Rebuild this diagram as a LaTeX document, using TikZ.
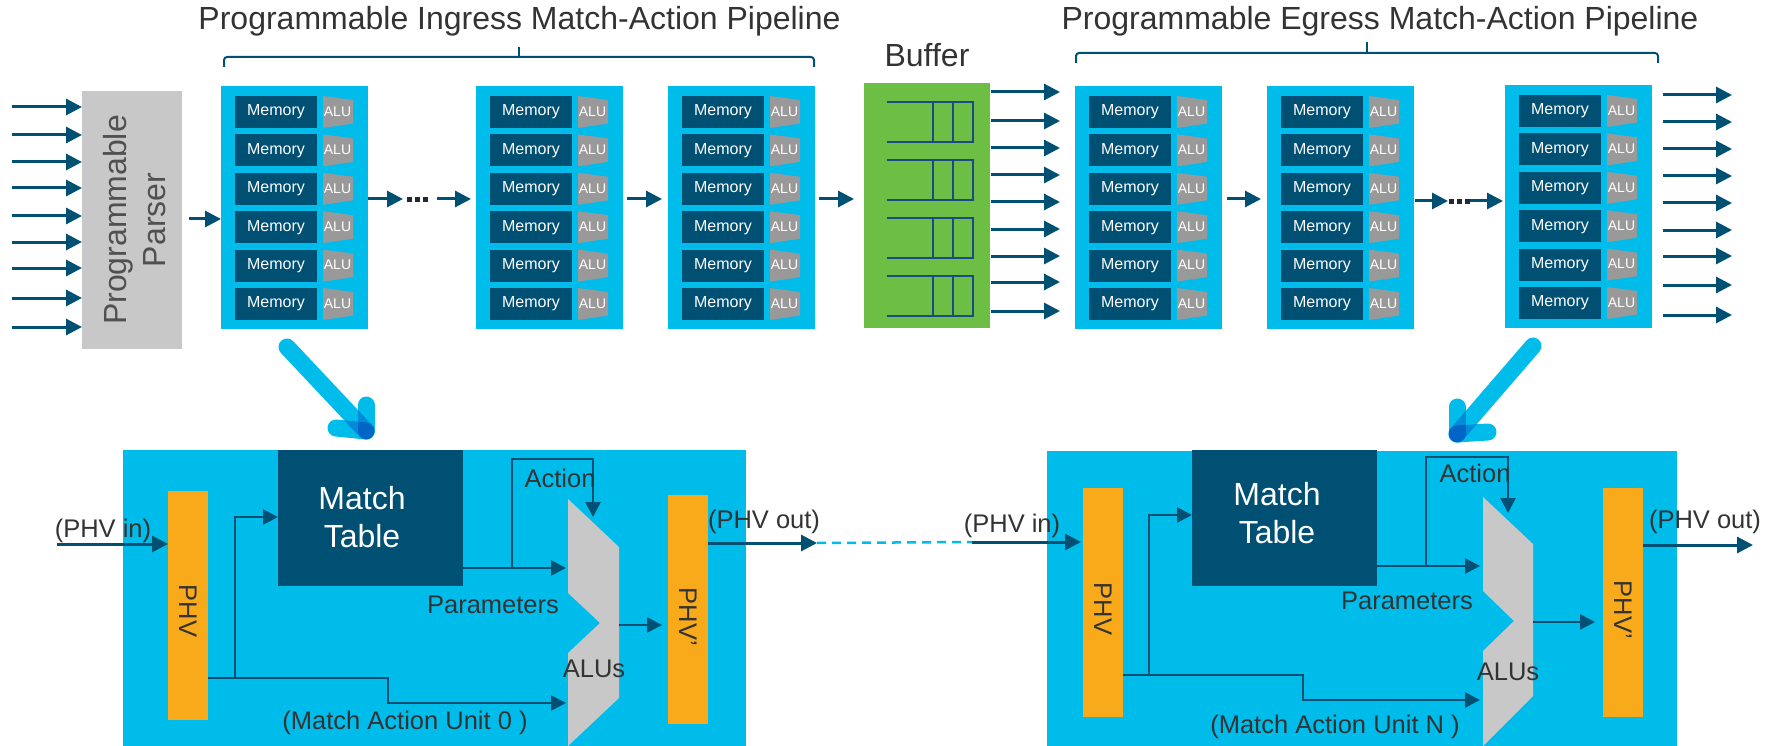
\documentclass[tikz,border=0pt]{standalone}
\usepackage{fontspec}
\setmainfont{Liberation Sans}
\usetikzlibrary{arrows.meta}

\definecolor{cyanbox}{HTML}{00BCEB}
\definecolor{deep}{HTML}{005073}
\definecolor{alugray}{HTML}{999999}
\definecolor{parsergray}{HTML}{C8C8C8}
\definecolor{muxgray}{HTML}{C8C8C8}
\definecolor{bufgreen}{HTML}{6CBE45}
\definecolor{phvorange}{HTML}{F9AA1B}
\definecolor{queueblue}{HTML}{1B4A86}
\definecolor{ink}{HTML}{333333}
\definecolor{parserink}{HTML}{505050}
\definecolor{dotink}{HTML}{1F2A36}

\newcommand\fsz[1]{\fontsize{#1pt}{#1pt}\selectfont}

\tikzset{
  nwbox/.style={anchor=north west, inner sep=0pt, outer sep=0pt},
  stagebox/.style={nwbox, fill=cyanbox, minimum width=147pt, minimum height=243pt},
  mem/.style={nwbox, fill=deep, text=white, minimum width=82pt, minimum height=32pt, font=\fsz{16}},
  alutext/.style={text=white, inner sep=0pt, font=\fsz{14}},
  arr/.style={draw=deep, line width=3pt, -{Triangle[length=16pt,width=16pt]}},
  wire/.style={draw=deep, line width=2.6pt},
  warr/.style={wire, -{Triangle[length=15pt,width=15pt]}},
  lbl/.style={text=ink, inner sep=0pt, anchor=base, font=\fsz{25.5}},
  ttl/.style={text=ink, inner sep=0pt, anchor=base, font=\fsz{32}},
  phvbar/.style={nwbox, fill=phvorange, minimum width=40pt, minimum height=229pt},
  bartext/.style={text=ink, rotate=-90, inner sep=0pt, font=\fsz{25.5}},
  mtable/.style={nwbox, fill=deep, minimum width=185pt, minimum height=136pt},
  tabletext/.style={text=white, align=center, inner sep=0pt, font=\fontsize{32pt}{38pt}\selectfont},
  maubox/.style={nwbox, fill=cyanbox},
  bracket/.style={draw=deep, line width=2pt, rounded corners=3pt},
  queue/.style={draw=queueblue, line width=2pt},
  bigarrow/.style={draw=cyanbox, line width=17pt, line cap=round},
  link/.style={draw=cyanbox, line width=2.5pt, dash pattern=on 9pt off 6pt},
  parsertext/.style={rotate=90, anchor=base, inner sep=0pt, text=parserink, font=\fsz{32}},
}

% one match-action stage: six Memory/ALU rows in a cyan box
\newcommand\mastage[3]{%
  \node[stagebox] (#1) at (#2,#3) {};
  \foreach \r in {0,...,5}{
    \pgfmathsetmacro\rowtop{#3+10+38.4*\r}
    \node[mem] (#1m\r) at (#2+14,\rowtop) {Memory};
    \fill[alugray] (#2+102,\rowtop) -- (#2+132,\rowtop+4) -- (#2+132,\rowtop+27.5) -- (#2+102,\rowtop+32) -- cycle;
    \node[alutext] (#1a\r) at (#2+116.5,\rowtop+15.5) {ALU};
  }
}

\begin{document}
\begin{tikzpicture}[x=1pt,y=-1pt]
\useasboundingbox (0,0) rectangle (1777,746);

% ---------- titles and brackets ----------
\node[ttl] (ingtitle) at (519.5,30) {Programmable Ingress Match-Action Pipeline};
\node[ttl] (egrtitle) at (1380,30) {Programmable Egress Match-Action Pipeline};
\node[ttl] (buftitle) at (927,67) {Buffer};

\draw[bracket] (224,67) -- (224,57) -- (814,57) -- (814,67);
\draw[bracket] (519,57) -- (519,47);
\draw[bracket] (1076,63) -- (1076,53) -- (1658,53) -- (1658,63);
\draw[bracket] (1367,53) -- (1367,42);

% ---------- parser ----------
\node[nwbox, fill=parsergray, minimum width=100pt, minimum height=258pt] (parser) at (82,91) {};
\node[parsertext] (parserl1) at (126,220) {Programmable};
\node[parsertext] (parserl2) at (165,220) {Parser};

\foreach \y [count=\i] in {107,135,162,188,216,242,268,298,327}{
  \coordinate (in\i) at (12,\y);
  \draw[arr] (in\i) -- (in\i -| parser.west);
}

% ---------- stages ----------
\mastage{ig1}{221}{86}
\mastage{ig2}{476}{86}
\mastage{ig3}{668}{86}
\mastage{eg1}{1075}{86}
\mastage{eg2}{1267}{86}
\mastage{eg3}{1505}{85}

% ---------- buffer ----------
\node[nwbox, fill=bufgreen, minimum width=126pt, minimum height=245pt] (buf) at (864,83) {};
\foreach \t in {102,160,218,276}{
  \draw[queue] (887,\t) -- (973,\t) -- (973,\t+40) -- (887,\t+40);
  \draw[queue] (933,\t) -- (933,\t+40);
  \draw[queue] (953,\t) -- (953,\t+40);
}

% ---------- pipeline arrows ----------
\draw[arr, shorten <=7pt] (parser.east |- 0,219) -- (ig1.west |- 0,219);

\coordinate (dotsA) at (403,199);
\coordinate (dotsAend) at (437,199);
\draw[arr] (ig1.east |- dotsA) -- (dotsA);
\foreach \d in {407,415,423}{ \fill[dotink] (\d,197) rectangle +(5,5); }
\draw[arr, shorten >=5pt] (dotsAend) -- (dotsAend -| ig2.west);

\draw[arr, shorten <=4pt, shorten >=6pt] (ig2.east |- 0,199) -- (ig3.west |- 0,199);
\draw[arr, shorten <=4pt, shorten >=10pt] (ig3.east |- 0,199) -- (buf.west |- 0,199);

\foreach \y [count=\i] in {92,121,148,175,202,229,256,282,311}{
  \coordinate (bo\i) at (1060,\y);
  \draw[arr, shorten <=1pt] (bo\i -| buf.east) -- (bo\i);
}

\draw[arr, shorten <=5pt, shorten >=6pt] (eg1.east |- 0,199) -- (eg2.west |- 0,199);

\coordinate (dotsB) at (1448,201);
\coordinate (dotsBend) at (1470,201);
\draw[arr, shorten <=1pt] (eg2.east |- dotsB) -- (dotsB);
\foreach \d in {1449,1457,1465}{ \fill[dotink] (\d,199) rectangle +(5,5); }
\draw[arr, shorten >=2pt] (dotsBend) -- (dotsBend -| eg3.west);

\foreach \y [count=\i] in {95,122,149,176,203,230,256,285,315}{
  \coordinate (eo\i) at (1732,\y);
  \draw[arr, shorten <=11pt] (eo\i -| eg3.east) -- (eo\i);
}

% ---------- zoom-in callout arrows ----------
\coordinate (zoomAstart) at (287,347);
\coordinate (zoomAtip) at (366,431);
\coordinate (zoomBstart) at (1533,346);
\coordinate (zoomBtip) at (1457,434);
\begin{scope}[blend mode=multiply]
  \draw[bigarrow] (zoomAstart) -- (zoomAtip);
  \draw[bigarrow] (366,405) -- (zoomAtip);
  \draw[bigarrow] (336,428) -- (zoomAtip);
  \draw[bigarrow] (zoomBstart) -- (zoomBtip);
  \draw[bigarrow] (1457,407) -- (zoomBtip);
  \draw[bigarrow] (1488,432) -- (zoomBtip);
\end{scope}

% ---------- match action unit 0 ----------
\node[maubox, minimum width=623pt, minimum height=296pt] (mau0) at (123,450) {};
\node[phvbar] (phv0) at (168,491) {};
\node[bartext] (phv0t) at (188,611) {PHV};
\node[mtable] (mt0) at (278,450) {};
\node[tabletext] (mt0t) at (362,517) {Match\\Table};
\fill[muxgray] (568,499) -- (619,547) -- (619,698) -- (568,746) -- (568,653) -- (600,623) -- (568,593) -- cycle;
\coordinate (mux0in) at (566,623);
\coordinate (mux0out) at (619,625);
\node[phvbar] (phvp0) at (668,495) {};
\node[bartext] (phvp0t) at (688,617) {PHV’};

\coordinate (pin0) at (57,544);
\draw[arr] (pin0) -- (pin0 -| phv0.west);
\coordinate (split0) at (235,678);
\draw[warr] (phv0.east |- split0) -- (388,678) -- (388,703) -- (mux0in |- 0,703);
\draw[warr] (split0) |- (mt0.west |- 0,517);
\coordinate (fork0) at (512,568);
\draw[warr] (mt0.east |- fork0) -- (mux0in |- fork0);
\draw[warr] (fork0) |- (593,459) -- (593,517);
\draw[warr, shorten >=6pt] (mux0out) -- (phvp0.west |- mux0out);
\coordinate (pout0) at (817,543);
\draw[arr] (phvp0.east |- pout0) -- (pout0);

\node[lbl] (pinlbl0) at (103,537) {(PHV in)};
\node[lbl] (actlbl0) at (560,487) {Action};
\node[lbl] (parlbl0) at (493,613) {Parameters};
\node[lbl] (maulbl0) at (405,729) {(Match Action Unit 0 )};
\node[lbl] (alulbl0) at (594,677) {ALUs};
\node[lbl] (poutlbl0) at (764,528) {(PHV out)};

% ---------- match action unit N ----------
\node[maubox, minimum width=630pt, minimum height=295pt] (mau1) at (1047,451) {};
\node[phvbar] (phv1) at (1083,488) {};
\node[bartext] (phv1t) at (1103,609) {PHV};
\node[mtable] (mt1) at (1192,450) {};
\node[tabletext] (mt1t) at (1277,513) {Match\\Table};
\fill[muxgray] (1483,497) -- (1533,544) -- (1533,696) -- (1483,746) -- (1483,651) -- (1514,621) -- (1483,591) -- cycle;
\coordinate (mux1in) at (1480,621);
\coordinate (mux1out) at (1533,622);
\node[phvbar] (phvp1) at (1603,488) {};
\node[bartext] (phvp1t) at (1623,610) {PHV’};

\coordinate (pin1) at (972,542);
\draw[link] (pout0) -- (pin1);
\draw[arr, shorten >=2pt] (pin1) -- (pin1 -| phv1.west);
\coordinate (split1) at (1149,675);
\draw[warr] (phv1.east |- split1) -- (1303,675) -- (1303,700) -- (mux1in |- 0,700);
\draw[warr] (split1) |- (mt1.west |- 0,515);
\coordinate (fork1) at (1426,566);
\draw[warr] (mt1.east |- fork1) -- (mux1in |- fork1);
\draw[warr] (fork1) |- (1508,457) -- (1508,513);
\draw[warr, shorten >=8pt] (mux1out) -- (phvp1.west |- mux1out);
\coordinate (pout1) at (1753,545);
\draw[arr] (phvp1.east |- pout1) -- (pout1);

\node[lbl] (pinlbl1) at (1012,532) {(PHV in)};
\node[lbl] (actlbl1) at (1475,482) {Action};
\node[lbl] (parlbl1) at (1407,609) {Parameters};
\node[lbl] (maulbl1) at (1335,733) {(Match Action Unit N )};
\node[lbl] (alulbl1) at (1508,680) {ALUs};
\node[lbl] (poutlbl1) at (1705,528) {(PHV out)};

\end{tikzpicture}
\end{document}
